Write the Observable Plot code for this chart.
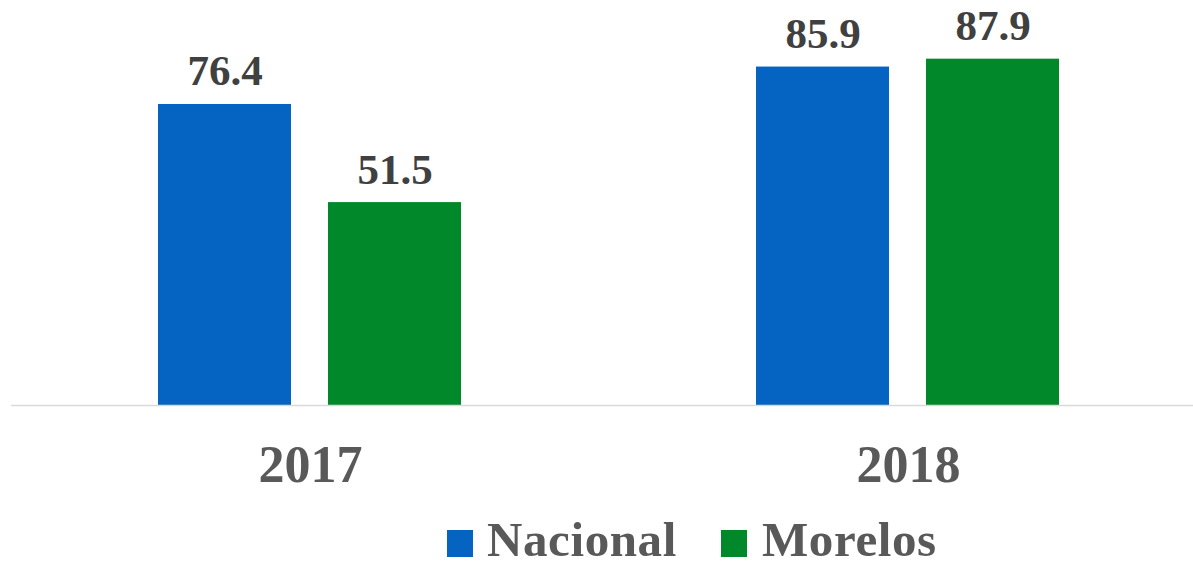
<!DOCTYPE html>
<html><head><meta charset="utf-8">
<script src="https://cdn.jsdelivr.net/npm/d3@7"></script>
<script src="https://cdn.jsdelivr.net/npm/@observablehq/plot@0.6"></script>
<style>
body{margin:0;background:#fff;font-family:"Liberation Serif",serif;overflow:hidden;}
#chart svg{display:block;}
#legend{position:relative;height:51px;width:1193px;}
#legend .sw{position:absolute;top:20px;width:26px;height:27px;}
#legend .lb{position:absolute;top:10px;font-size:49px;line-height:40px;letter-spacing:0.6px;font-weight:bold;color:#595959;white-space:nowrap;}
</style></head><body>
<div id="chart"></div>
<div id="legend"></div>
<script>
const years = ["2017", "2018"];
const series = ["Nacional", "Morelos"];
const nacional = [76.4, 85.9];
const morelos = [51.5, 87.9];
const colors = ["#0563C1", "#00882B"];

const data = years.flatMap((y, i) => [
  {year: y, serie: series[0], value: nacional[i]},
  {year: y, serie: series[1], value: morelos[i]}
]);

const plot = Plot.plot({
  width: 1193,
  height: 510,
  marginTop: 11,
  marginBottom: 105,
  marginLeft: 10,
  marginRight: 0,
  style: {fontFamily: "Liberation Serif", background: "#fff"},
  fx: {domain: years, range: [10, 1207], paddingInner: 0, paddingOuter: 0, label: null},
  x: {domain: series, paddingInner: 0.2164, paddingOuter: 0.858, axis: null},
  y: {domain: [0, 100], axis: null},
  color: {domain: series, range: colors},
  marks: [
    Plot.barY(data, {fx: "year", x: "serie", y: "value", fill: "serie"}),
    Plot.ruleY([0], {stroke: "#d9d9d9", strokeWidth: 1.5}),
    Plot.text(data, {fx: "year", x: "serie", y: "value", text: d => d.value.toFixed(1),
      lineAnchor: "bottom", dy: -19, fontSize: 43, fontWeight: "bold", fill: "#404040",
      letterSpacing: "1px"}),
    Plot.axisFx({anchor: "bottom", tickSize: 0, tickPadding: 40, fontSize: 52, fontWeight: "bold", fill: "#595959", label: null,
      letterSpacing: "2px"})
  ]
});
document.getElementById("chart").appendChild(plot);

const legend = document.getElementById("legend");
const swLeft = [447, 721];
const lbLeft = [487, 762];
series.forEach((s, i) => {
  const sw = document.createElement("div");
  sw.className = "sw";
  sw.style.left = swLeft[i] + "px";
  sw.style.background = colors[i];
  legend.appendChild(sw);
  const lb = document.createElement("div");
  lb.className = "lb";
  lb.style.left = lbLeft[i] + "px";
  lb.textContent = s;
  legend.appendChild(lb);
});
</script>
</body></html>
